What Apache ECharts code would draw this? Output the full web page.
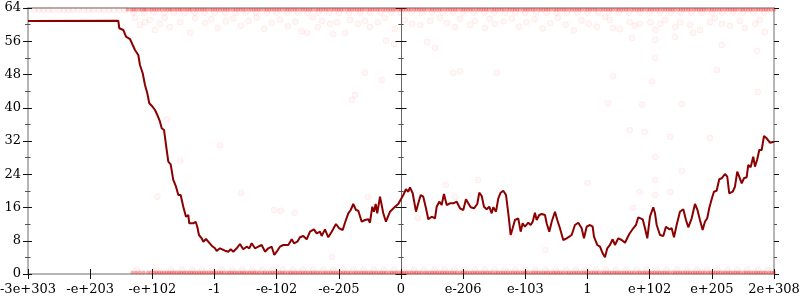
<!DOCTYPE html>
<html><head><meta charset="utf-8">
<script src="https://cdn.jsdelivr.net/npm/echarts@6/dist/echarts.min.js"></script>
<style>html,body{margin:0;padding:0;background:#fff}#c{width:800px;height:300px}</style>
</head><body><div id="c"></div>
<script>
// x tick labels (axis positions 0..12)
const xTickLabels = ['-3e+303','-e+203','-e+102','-1','-e-102','-e-205','0','e-206','e-103','1','e+102','e+205','2e+308'];
// y axis
const yMin = 0, yMax = 64, yStep = 8;

// main line (x in tick units, y value)
const lineX = [0,1.452,1.469,1.533,1.576,1.641,1.684,1.721,1.774,1.801,1.845,1.882,1.919,1.951,1.990,2.043,2.080,2.123,2.151,2.188,2.220,2.257,2.295,2.337,2.381,2.418,2.456,2.498,2.541,2.578,2.594,2.659,2.697,2.723,2.750,2.794,2.820,2.863,2.900,2.955,3.008,3.035,3.088,
3.169,3.222,3.260,3.302,3.357,3.410,3.463,3.518,3.560,3.598,3.651,3.704,3.759,3.812,3.865,3.920,3.962,4.000,4.053,4.107,4.187,4.242,4.279,4.332,4.375,4.428,4.483,4.536,4.600,4.644,4.697,4.724,4.777,4.830,4.885,4.954,5.007,5.062,5.099,5.152,5.191,5.232,5.276,5.313,5.368,5.421,5.474,5.501,5.538,5.565,5.593,5.618,5.662,5.689,5.715,5.758,5.823,5.903,5.956,
5.984,6.037,6.080,6.117,6.144,6.188,6.241,6.278,6.317,6.358,6.402,6.439,6.494,6.547,6.574,6.616,6.654,6.691,6.735,6.788,6.841,6.896,6.949,7.002,7.045,7.082,7.121,7.174,7.227,7.259,7.298,7.335,7.378,7.420,7.459,7.485,7.528,7.565,7.603,7.645,7.689,7.726,7.764,7.796,7.833,7.886,7.925,7.957,7.994,8.047,8.086,8.118,8.155,8.182,8.224,8.263,8.316,8.343,8.385,8.424,8.477,8.514,8.557,8.610,8.665,8.745,8.798,8.852,8.906,8.943,8.987,
9.040,9.083,9.104,9.157,9.201,9.244,9.281,9.318,9.361,9.405,9.442,9.495,9.550,9.603,9.672,9.736,9.780,9.817,9.888,9.925,9.962,10.005,10.058,10.086,10.113,10.166,10.219,10.262,10.315,10.354,10.391,10.434,10.487,10.541,10.584,10.621,10.676,10.729,10.766,10.809,10.852,10.889,10.926,10.958,10.997,11.034,11.077,11.119,11.158,11.211,11.248,11.280,11.335,11.372,11.409,11.441,11.480,11.517,11.560,11.586,11.624,11.666,11.694,11.731,11.763,11.802,11.839,11.882,11.935,12.0];
const lineY = [60.9,60.94,59.12,58.71,57.09,56.54,55.10,53.89,52.69,50.29,48.29,45.47,43.48,41.07,40.49,39.46,38.26,36.64,35.06,34.65,31.04,27.02,26.39,22.62,21.00,19.01,19.01,16.19,13.79,14.20,12.20,12.20,12.58,11.38,9.38,8.59,7.77,8.42,7.77,6.81,6.18,5.53,6.18,
5.61,5.37,5.94,5.37,6.18,7.22,5.94,6.57,6.18,7.39,6.18,6.57,6.98,5.37,6.18,6.57,4.57,5.37,6.57,6.98,6.98,8.35,7.39,7.77,8.83,9.14,8.35,10.18,10.75,9.79,10.18,9.14,10.75,8.83,10.18,12.03,11.00,10.59,12.34,14.60,15.40,16.84,15.40,15.23,12.58,12.99,13.16,12.34,16.19,14.99,16.84,14.60,18.60,16.60,14.60,12.58,14.99,16.19,16.84,
17.32,19.01,20.38,19.80,20.86,19.42,14.99,17.01,19.01,18.60,15.81,13.16,13.79,13.40,16.19,17.40,16.60,19.25,16.60,17.01,17.01,17.40,15.81,15.40,17.97,17.01,16.05,15.81,16.84,19.56,18.77,16.19,15.57,16.19,14.60,16.05,14.99,18.21,19.56,20.04,19.01,14.60,9.38,11.00,12.99,13.40,10.18,12.20,11.38,12.34,11.79,12.58,14.75,12.99,14.20,14.44,14.20,12.20,10.18,12.58,14.99,12.99,11.00,8.18,8.59,9.38,11.79,12.34,11.00,8.59,11.38,
11.79,11.38,8.97,6.98,6.57,4.98,4.02,6.18,6.98,8.35,6.98,8.59,8.18,7.53,9.62,11.00,11.79,13.64,13.16,11.00,8.59,13.79,16.05,14.60,11.79,9.38,9.14,11.38,10.75,11.00,8.83,11.79,14.99,15.57,12.99,11.24,13.40,16.84,15.57,12.99,10.59,12.58,13.40,15.81,17.97,19.80,20.04,22.79,23.03,24.06,23.41,19.42,19.80,21.00,24.61,23.41,21.82,23.03,23.27,26.23,25.67,28.22,25.82,27.60,29.83,29.83,33.20,32.65,31.59,31.83];

// sparse samples at the top on the far left (faint)
const topSparseX = [0.1,0.18,0.25,0.33,0.4,0.5,0.58,0.65,0.72,0.81,0.9,0.98,1.05,1.14,1.22,1.3,1.38,1.47,1.55];
// dense bands (x positions at a fixed value)
const topBandX = [1.6,1.66,1.74,1.83,1.9,1.99,2.07,2.15,2.24,2.31,2.4,2.47,2.56,2.63,2.72,2.8,2.88,2.97,3.05,3.13,3.21,3.3,3.38,3.46,3.55,3.63,3.71,3.8,3.88,3.96,4.04,4.13,4.21,4.29,4.38,4.46,4.54,4.63,4.71,4.79,4.88,4.96,5.04,5.13,5.21,5.29,5.37,5.46,5.54,5.62,5.71,5.79,5.87,5.96,6.04,6.12,6.21,6.29,6.37,6.46,6.54,6.62,6.71,6.79,6.87,6.96,7.04,7.12,7.21,7.29,7.37,7.46,7.54,7.62,7.71,7.79,7.87,7.96,8.04,8.12,8.21,8.29,8.37,8.46,8.54,8.62,8.71,8.79,8.87,8.96,9.04,9.12,9.21,9.29,9.37,9.46,9.54,9.62,9.71,9.79,9.87,9.96,10.04,10.12,10.21,10.29,10.37,10.46,10.54,10.62,10.71,10.79,10.87,10.96,11.04,11.12,11.21,11.29,11.37,11.46,11.54,11.62,11.71,11.79,11.87,11.95];
const topBand3X = [1.7,1.79,1.87,1.95,2.03,2.11,2.2,2.28,2.36,2.44,2.52,2.6,2.68,2.76,2.84,2.93,3.01,3.09,3.17,3.25,3.34,3.42,3.5,3.59,3.67,3.75,3.84,3.92,4.0,4.08,4.17,4.25,4.33,4.42,4.5,4.58,4.67,4.75,4.83,4.92,5.0,5.08,5.17,5.25,5.33,5.41,5.5,5.58,5.66,5.75,5.83,5.91,6.0,6.08,6.16,6.25,6.33,6.41,6.5,6.58,6.66,6.75,6.83,6.91,7.0,7.08,7.16,7.25,7.33,7.41,7.5,7.58,7.66,7.75,7.83,7.91,8.0,8.08,8.16,8.25,8.33,8.41,8.5,8.58,8.66,8.75,8.83,8.91,9.0,9.08,9.16,9.25,9.33,9.41,9.5,9.58,9.66,9.75,9.83,9.91,10.0,10.08,10.16,10.25,10.33,10.41,10.5,10.58,10.66,10.75,10.83,10.91,11.0,11.08,11.16,11.25,11.33,11.41,11.5,11.58,11.66,11.75,11.83,11.91,12.0];
const topBandY = 63.6;
const topBand2X = [1.7,1.87,2.02,2.19,2.35,2.52,2.68,2.84,3.0,3.17,3.34,3.5,3.67,3.84,4.0,4.17,4.34,4.5,4.67,4.84,5.0,5.17,5.34,5.5,5.67,5.84,6.0,6.17,6.34,6.5,6.67,6.84,7.0,7.17,7.34,7.5,7.67,7.84,8.0,8.17,8.34,8.5,8.67,8.84,9.0,9.17,9.34,9.5,9.67,9.84,10.0,10.17,10.34,10.5,10.67,10.84,11.0,11.17,11.34,11.5,11.67,11.84];
const topBand2Y = 62.9;
const bottomBandX = [1.68,1.8,1.93,2.03,2.11,2.19,2.27,2.35,2.43,2.51,2.59,2.67,2.75,2.83,2.91,2.99,3.07,3.15,3.24,3.32,3.4,3.48,3.56,3.64,3.72,3.81,3.89,3.97,4.05,4.13,4.22,4.3,4.38,4.46,4.54,4.62,4.7,4.79,4.87,4.95,5.03,5.11,5.19,5.28,5.36,5.44,5.52,5.6,5.68,5.76,5.85,5.93,6.01,6.09,6.17,6.25,6.33,6.42,6.5,6.58,6.66,6.74,6.82,6.9,6.99,7.07,7.15,7.23,7.31,7.39,7.47,7.56,7.64,7.72,7.8,7.88,7.96,8.04,8.13,8.21,8.29,8.37,8.45,8.53,8.61,8.7,8.78,8.86,8.94,9.02,9.1,9.18,9.27,9.35,9.43,9.51,9.59,9.67,9.75,9.84,9.92,10.0,10.08,10.16,10.24,10.32,10.41,10.49,10.57,10.65,10.73,10.81,10.89,10.98,11.06,11.14,11.22,11.3,11.38,11.46,11.55,11.63,11.71,11.79,11.87,11.96];
const bottomBand3X = [1.74,1.86,1.98,2.07,2.15,2.23,2.31,2.39,2.47,2.55,2.63,2.71,2.79,2.87,2.95,3.03,3.11,3.2,3.28,3.36,3.44,3.52,3.6,3.68,3.77,3.85,3.93,4.01,4.09,4.18,4.26,4.34,4.42,4.5,4.58,4.66,4.75,4.83,4.91,4.99,5.07,5.15,5.24,5.32,5.4,5.48,5.56,5.64,5.72,5.81,5.89,5.97,6.05,6.13,6.21,6.29,6.38,6.46,6.54,6.62,6.7,6.78,6.86,6.95,7.03,7.11,7.19,7.27,7.35,7.43,7.52,7.6,7.68,7.76,7.84,7.92,8.0,8.09,8.17,8.25,8.33,8.41,8.49,8.57,8.66,8.74,8.82,8.9,8.98,9.06,9.14,9.23,9.31,9.39,9.47,9.55,9.63,9.71,9.8,9.88,9.96,10.04,10.12,10.2,10.28,10.37,10.45,10.53,10.61,10.69,10.77,10.85,10.94,11.02,11.1,11.18,11.26,11.34,11.42,11.51,11.59,11.67,11.75,11.83,11.92,12.0];
const bottomBandY = 0.35;
const bottomBand2X = [1.75,2.06,2.3,2.48,2.64,2.8,2.96,3.12,3.29,3.45,3.61,3.77,3.94,4.1,4.26,4.42,4.59,4.75,4.91,5.07,5.24,5.4,5.56,5.72,5.89,6.05,6.21,6.37,6.54,6.7,6.86,7.02,7.19,7.35,7.51,7.67,7.84,8.0,8.16,8.32,8.49,8.65,8.81,8.97,9.14,9.3,9.46,9.62,9.79,9.95,10.11,10.27,10.44,10.6,10.76,10.92,11.09,11.25,11.41,11.57,11.74,11.9];
const bottomBand2Y = 1.0;
// scattered faint points [x, value]
const cloudPts = [[1.72,61.6],[1.80,59.9],[1.88,60.6],[1.96,61.1],[2.04,58.7],[2.12,60.2],[2.20,61.6],[2.28,59.4],[2.45,60.6],[2.61,58.0],[2.69,61.6],
[2.85,60.4],[2.95,61.3],[3.05,59.2],[3.18,60.8],[3.3,61.5],[3.42,59.7],[3.55,60.9],[3.68,61.7],[3.8,59.0],[3.92,60.5],[4.05,61.2],[4.18,59.6],[4.3,60.7],[4.4,58.4],
[4.49,58.0],[4.58,61.8],[4.66,59.4],[4.73,60.9],[4.86,60.2],[4.91,57.7],[4.97,60.6],[5.10,58.0],[5.18,61.1],[5.31,60.2],[5.42,60.9],[5.50,59.4],[5.63,60.6],[5.74,61.6],[5.90,58.9],[6.06,61.1],[6.18,60.2],[6.31,59.9],[6.47,60.9],[6.63,61.6],[6.74,60.4],[6.87,59.4],[6.95,61.4],[7.11,59.9],[7.19,60.9],[7.35,59.2],[7.43,61.4],[7.51,60.2],
[5.76,56.1],[5.89,55.3],[6.42,55.8],[6.55,54.4],[5.42,48.4],[5.69,46.7],[6.84,48.4],[6.95,48.8],[7.54,48.4],[5.21,41.9],[5.26,43.1],
[7.65,60.8],[7.78,61.5],[7.9,59.5],[8.02,60.6],[8.15,61.3],[8.28,59.1],[8.4,60.4],[8.52,61.7],[8.65,60.0],[8.78,58.6],[8.9,61.0],[9.02,60.3],[9.15,59.5],
[9.28,61.8],[9.36,61.1],[9.41,59.2],[9.52,58.9],[9.68,60.6],[9.76,59.7],[9.84,60.2],[10.01,60.6],[10.09,58.7],[10.17,60.2],[10.25,61.1],[10.41,59.4],[10.49,60.6],[10.65,59.9],[10.81,58.7],[10.97,60.6],[11.05,61.6],[11.16,60.2],[11.29,59.7],[11.45,60.9],[11.53,59.2],[11.70,60.2],[11.77,61.1],[11.85,58.2],
[9.72,56.8],[10.09,56.3],[10.41,57.0],[10.70,58.0],[11.16,55.1],[11.73,53.7],[10.09,52.0],[11.08,49.1],[9.41,47.6],[10.04,46.4],[11.74,43.8],
[9.33,41.1],[9.88,40.7],[10.52,40.9],[9.68,34.6],[9.92,34.2],[10.33,33.0],[10.97,32.7],[10.09,28.2],[10.09,22.6],[10.52,24.8],[10.09,19.0],[9.84,19.7],[10.33,19.7],[9.73,15.9],
[6.72,21.4],[6.27,13.5],[6.87,18.5],[7.24,22.6],[7.78,9.4],[9.0,21.9],[8.32,5.8],
[3.43,19.5],[3.96,15.4],[4.07,15.2],[4.29,14.7],[4.89,4.1],[5.47,18.5],[2.08,18.6],[2.45,27.3],[2.23,37.2],[3.09,31.0]];

const chart = echarts.init(document.getElementById('c'), null, {renderer:'canvas'});
const font = 'DejaVu Serif';
const lineData = lineX.map((x,i)=>[x, lineY[i]]);
const bandData = [].concat(
  topBandX.map(x=>[x, topBandY]),
  topBand3X.map(x=>[x, topBandY]),
  bottomBandX.map(x=>[x, bottomBandY]),
  bottomBand3X.map(x=>[x, bottomBandY])
);
const dotData = [].concat(
  topSparseX.map(x=>[x, topBandY]),
  topBand2X.map(x=>[x, topBand2Y]),
  bottomBand2X.map(x=>[x, bottomBand2Y]),
  cloudPts
);

function yAx(opts){
  return Object.assign({
    type:'value', min:yMin, max:yMax, interval:yStep, position:'left',
    splitLine:{show:false}, axisLabel:{show:false}, axisLine:{show:false},
    axisTick:{show:true, length:4, lineStyle:{color:'#111', width:1}},
    minorTick:{show:true, splitNumber:2, length:2.5, lineStyle:{color:'#555', width:1}},
    minorSplitLine:{show:false}
  }, opts);
}
function xAx(opts){
  return Object.assign({
    type:'value', min:0, max:12, interval:1, position:'bottom',
    splitLine:{show:false}, axisLabel:{show:false}, axisLine:{show:false},
    axisTick:{show:false}
  }, opts);
}

const outerLine = {show:true, onZero:false, lineStyle:{color:'#b5b5b5', width:2}};

chart.setOption({
  animation:false,
  backgroundColor:'#fff',
  grid:{left:28, right:26, top:8, bottom:26, containLabel:false, outerBoundsMode:'none'},
  xAxis:[
    xAx({axisLine:outerLine,
      axisTick:{show:true, length:5, lineStyle:{color:'#111'}},
      axisLabel:{show:true, margin:9, fontFamily:font, fontSize:13, color:'#000',
        formatter:(v)=>xTickLabels[Math.round(v)] ?? ''}}),
    xAx({axisTick:{show:true, inside:true, length:5, lineStyle:{color:'#111'}}}),
    xAx({position:'top', axisLine:outerLine})
  ],
  yAxis:[
    yAx({axisLine:outerLine, axisLabel:{show:true, margin:7, fontFamily:font, fontSize:13, color:'#000'}}),
    yAx({axisTick:{show:true, inside:true, length:4, lineStyle:{color:'#111'}},
         minorTick:{show:true, splitNumber:2, length:2.5, lineStyle:{color:'#555'}}}),
    yAx({position:'right', axisLine:outerLine, axisTick:{show:true, length:5, lineStyle:{color:'#111'}},
         minorTick:{show:true, splitNumber:2, length:3, lineStyle:{color:'#555'}}}),
    yAx({position:'right', axisTick:{show:true, inside:true, length:5, lineStyle:{color:'#111'}},
         minorTick:{show:true, splitNumber:2, length:3, lineStyle:{color:'#555'}}}),
    yAx({offset:-373, axisLine:{show:true, onZero:false, lineStyle:{color:'#666', width:1}},
         axisTick:{show:true, length:5.5, lineStyle:{color:'#111'}},
         minorTick:{show:true, splitNumber:2, length:2.7, lineStyle:{color:'#555'}}}),
    yAx({offset:-373, axisTick:{show:true, inside:true, length:5.5, lineStyle:{color:'#111'}},
         minorTick:{show:true, splitNumber:2, length:2.7, lineStyle:{color:'#555'}}})
  ],
  series:[
    {type:'scatter', xAxisIndex:0, yAxisIndex:0, data:dotData, symbol:'circle', symbolSize:6,
     itemStyle:{color:'rgba(255,0,0,0.045)', borderColor:'rgba(255,0,0,0.07)', borderWidth:1},
     silent:true, z:2},
    {type:'scatter', xAxisIndex:0, yAxisIndex:0, data:bandData, symbol:'circle', symbolSize:4,
     itemStyle:{color:'rgba(240,0,0,0.4)', borderWidth:0},
     silent:true, z:2},
    {type:'line', xAxisIndex:0, yAxisIndex:0, data:lineData, showSymbol:false, symbol:'none',
     lineStyle:{color:'#8b0000', width:2}, silent:true, z:3}
  ]
});
</script></body></html>
